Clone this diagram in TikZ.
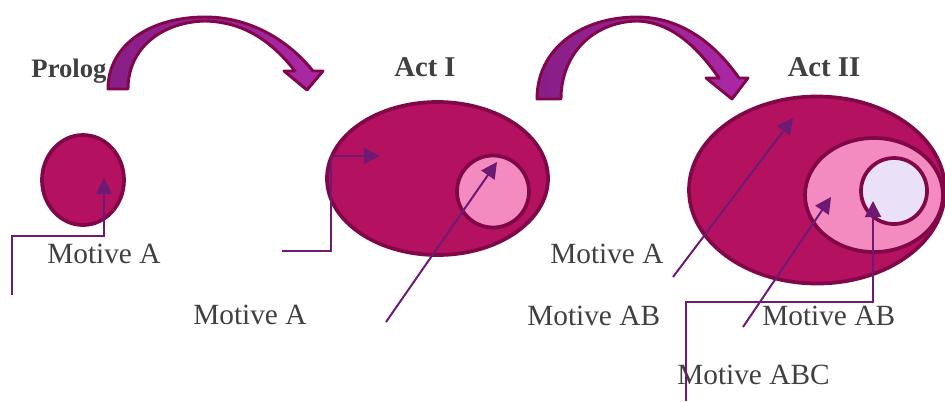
\documentclass[tikz,border=0pt]{standalone}
\usepackage{fontspec}
\setmainfont{Liberation Serif}
\usetikzlibrary{shapes.geometric,arrows.meta}
\definecolor{magbig}{RGB}{180,18,96}
\definecolor{magedge}{RGB}{128,8,72}
\definecolor{pinkmid}{RGB}{243,138,192}
\definecolor{lavender}{RGB}{234,224,248}
\definecolor{linkcol}{RGB}{110,26,116}
\definecolor{txt}{RGB}{64,64,64}
\definecolor{arrL}{RGB}{136,30,134}
\definecolor{arrR}{RGB}{172,40,166}
\begin{document}
\begin{tikzpicture}[x=0.75pt,y=-0.75pt,
  blob/.style={ellipse,draw=magedge,line width=2.8pt,inner sep=0pt,outer sep=0pt},
  motive/.style={text=txt,font=\fontsize{22}{26}\selectfont,inner sep=0pt,anchor=base west},
  title/.style={text=txt,font=\bfseries\fontsize{21.5}{26}\selectfont,inner sep=0pt,anchor=base},
  motlink/.style={draw=linkcol,line width=1.5pt,-{Triangle[length=12pt,width=12pt]}},
  bigarrow/.style={draw=magedge,line width=2.2pt,line join=round,left color=arrL,right color=arrR}
]
\useasboundingbox (0,0) rectangle (945,401);

% curved block arrows
\path[bigarrow] (108,89) .. controls (108,45) and (150,17) .. (205,17)
  .. controls (250,17) and (288,40) .. (313,71) -- (323,71) -- (307,90) -- (284,71) -- (295,71)
  .. controls (272,42) and (245,22) .. (205,21)
  .. controls (162,22) and (128,48) .. (128,89) -- cycle;
\path[bigarrow] (537,99) .. controls (537,48) and (582,17) .. (637,17)
  .. controls (682,17) and (716,45) .. (739,78) -- (748,78) -- (732,99) -- (706,78) -- (719,78)
  .. controls (698,48) and (672,22) .. (637,21)
  .. controls (592,22) and (561,55) .. (561,99) -- cycle;

% titles
\node[title,font=\bfseries\fontsize{20}{24}\selectfont] (tprolog) at (69,77) {Prolog};
\node[title] (tactI) at (425,76) {Act I};
\node[title] (tactII) at (824,76) {Act II};

% ellipses
\node[blob,fill=magbig,minimum width=61.5pt,minimum height=67.5pt] (prolog) at (83,180) {};
\node[blob,fill=magbig,minimum width=165.75pt,minimum height=114.75pt] (actIbig) at (437.5,178.5) {};
\node[blob,fill=pinkmid,minimum width=54pt,minimum height=54pt] (actIin) at (493,191.5) {};
\node[blob,fill=magbig,minimum width=192pt,minimum height=140.25pt] (actIIbig) at (817,190) {};
\node[blob,fill=pinkmid,minimum width=103.5pt,minimum height=85.5pt] (actIImid) at (874,195) {};
\node[blob,fill=lavender,minimum width=49.5pt,minimum height=49.5pt] (actIIin) at (894,191) {};

% labels
\node[motive] (mA1) at (47,263) {Motive A};
\node[motive] (mA2) at (193,324) {Motive A};
\node[motive] (mA3) at (550,263) {Motive A};
\node[motive] (mAB1) at (527,325) {Motive AB};
\node[motive] (mAB2) at (762,325) {Motive AB};
\node[motive] (mABC) at (677,384) {Motive ABC};

% connector points
\coordinate (s1) at (12,295); \coordinate (b1) at (104,236); \coordinate (t1) at (104,178);
\coordinate (s2) at (282,251); \coordinate (b2) at (331,156); \coordinate (t2) at (380,156);
\coordinate (s3) at (386,322); \coordinate (t3) at (497,162);
\coordinate (s4) at (673,277); \coordinate (t4) at (793,118);
\coordinate (s5) at (743,327); \coordinate (t5) at (831,197);
\coordinate (s6) at (686,401); \coordinate (b6) at (873,302); \coordinate (t6) at (873,201);

\draw[motlink] (s1) |- (b1) -- (t1);
\draw[motlink] (s2) -| (b2) -- (t2);
\draw[motlink] (s3) -- (t3);
\draw[motlink] (s4) -- (t4);
\draw[motlink] (s5) -- (t5);
\draw[motlink] (s6) |- (b6) -- (t6);
\end{tikzpicture}
\end{document}
